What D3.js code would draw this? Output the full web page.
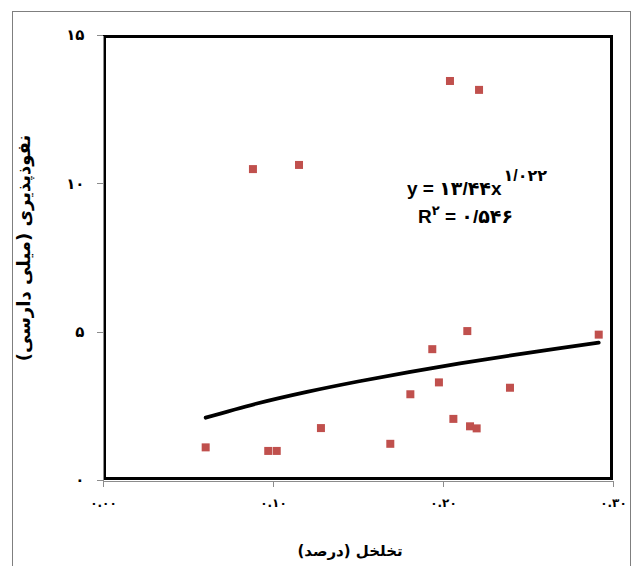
<!DOCTYPE html>
<html lang="fa">
<head>
<meta charset="UTF-8">
<title>نفوذپذیری - تخلخل</title>
<script src="https://cdnjs.cloudflare.com/ajax/libs/d3/7.8.5/d3.min.js"></script>
<style>
  * { margin: 0; padding: 0; }
  body { background: #fff; }
  svg { display: block; }
  svg text { font-family: "DejaVu Sans", sans-serif; font-weight: bold; fill: #000; }
  .axis path, .axis line { stroke: #8c8c8c; stroke-width: 1; shape-rendering: crispEdges; }
  .eq { font-family: "Liberation Sans", "DejaVu Sans", sans-serif; }
</style>
</head>
<body>
<div id="chart"></div>
<script>
// porosity (fraction) and permeability (mD)
var porosity = [0.0604, 0.0882, 0.0972, 0.1022, 0.1153, 0.1282, 0.169, 0.1808, 0.1937,
  0.1976, 0.2041, 0.2061, 0.2143, 0.2159, 0.2198, 0.2212, 0.2394, 0.2916];
var permeability = [1.10, 10.48, 0.98, 0.98, 10.62, 1.75, 1.22, 2.89, 4.41,
  3.29, 13.45, 2.06, 5.02, 1.81, 1.74, 13.15, 3.11, 4.90];

// trend line as drawn
var trendX = [0.0604, 0.09, 0.12, 0.15, 0.18, 0.21, 0.24, 0.27, 0.2916];
var trendY = [2.10, 2.57, 2.97, 3.32, 3.64, 3.93, 4.20, 4.45, 4.63];

var xTicks = [0, 0.1, 0.2, 0.3];
var xTickLabels = ['۰.۰۰', '۰.۱۰', '۰.۲۰', '۰.۳۰'];
var yTicks = [0, 5, 10, 15];
var yTickLabels = ['۰', '۵', '۱۰', '۱۵'];

var xTitle = 'تخلخل (درصد)';
var yTitle = 'نفوذپذیری (میلی دارسی)';

(function() {
  var width = 641, height = 566;
  var plotL = 103, plotR = 613, plotT = 35, plotB = 480;

  var svg = d3.select('#chart').append('svg')
    .attr('width', width)
    .attr('height', height);

  // outer frame
  svg.append('rect')
    .attr('x', 12.5).attr('y', 11.5)
    .attr('width', 618).attr('height', 570)
    .attr('fill', 'none')
    .attr('stroke', '#7f7f7f');

  var x = d3.scaleLinear().domain([0, 0.3]).range([plotL, plotR]);
  var y = d3.scaleLinear().domain([0, 15]).range([plotB, plotT]);

  // plot area border
  svg.append('rect')
    .attr('x', plotL + 1.5).attr('y', plotT + 1.5)
    .attr('width', plotR - plotL - 3).attr('height', plotB - plotT - 3)
    .attr('fill', 'none')
    .attr('stroke', '#000')
    .attr('stroke-width', 3);

  var xAxis = d3.axisBottom(x)
    .tickValues(xTicks)
    .tickSize(6)
    .tickSizeOuter(0)
    .tickFormat(function(d, i) { return xTickLabels[i]; });

  var gx = svg.append('g')
    .attr('class', 'axis')
    .attr('transform', 'translate(0,' + (plotB + 0.5) + ')')
    .call(xAxis);
  gx.selectAll('text')
    .attr('y', 18)
    .style('font-size', '12px');

  var yAxis = d3.axisLeft(y)
    .tickValues(yTicks)
    .tickSize(6)
    .tickSizeOuter(0)
    .tickFormat(function(d, i) { return yTickLabels[i]; });

  var gy = svg.append('g')
    .attr('class', 'axis')
    .attr('transform', 'translate(' + (plotL - 0.5) + ',0)')
    .call(yAxis);
  gy.selectAll('text')
    .attr('x', -18)
    .style('font-size', '15px');

  // points
  svg.selectAll('rect.pt')
    .data(porosity)
    .enter()
    .append('rect')
    .attr('class', 'pt')
    .attr('x', function(d) { return x(d) - 4; })
    .attr('y', function(d, i) { return y(permeability[i]) - 4; })
    .attr('width', 8)
    .attr('height', 8)
    .attr('fill', '#c0504d');

  // trend line
  var line = d3.line()
    .x(function(d) { return x(d); })
    .y(function(d, i) { return y(trendY[i]); })
    .curve(d3.curveMonotoneX);

  svg.append('path')
    .attr('d', line(trendX))
    .attr('fill', 'none')
    .attr('stroke', '#000')
    .attr('stroke-width', 3.8)
    .attr('stroke-linecap', 'round');

  // equation
  var eq1 = svg.append('text')
    .attr('class', 'eq')
    .attr('x', 407).attr('y', 195)
    .attr('direction', 'ltr')
    .style('font-size', '19px');
  eq1.append('tspan').text('y = ۱۳/۴۴x');
  eq1.append('tspan')
    .attr('dx', 2)
    .attr('dy', -14)
    .style('font-size', '16px')
    .text('۱/۰۲۲');

  var eq2 = svg.append('text')
    .attr('class', 'eq')
    .attr('x', 418).attr('y', 223)
    .attr('direction', 'ltr')
    .style('font-size', '19px');
  eq2.append('tspan').text('R');
  eq2.append('tspan')
    .attr('dy', -8)
    .style('font-size', '13px')
    .text('۲');
  eq2.append('tspan')
    .attr('dy', 8)
    .text(' = ۰/۵۴۶');

  // axis titles
  svg.append('text')
    .attr('x', 350).attr('y', 556)
    .attr('text-anchor', 'middle')
    .style('font-size', '15px')
    .text(xTitle);

  svg.append('text')
    .attr('transform', 'translate(30,248) rotate(-90)')
    .attr('text-anchor', 'middle')
    .style('font-size', '18px')
    .text(yTitle);
})();
</script>
</body>
</html>
